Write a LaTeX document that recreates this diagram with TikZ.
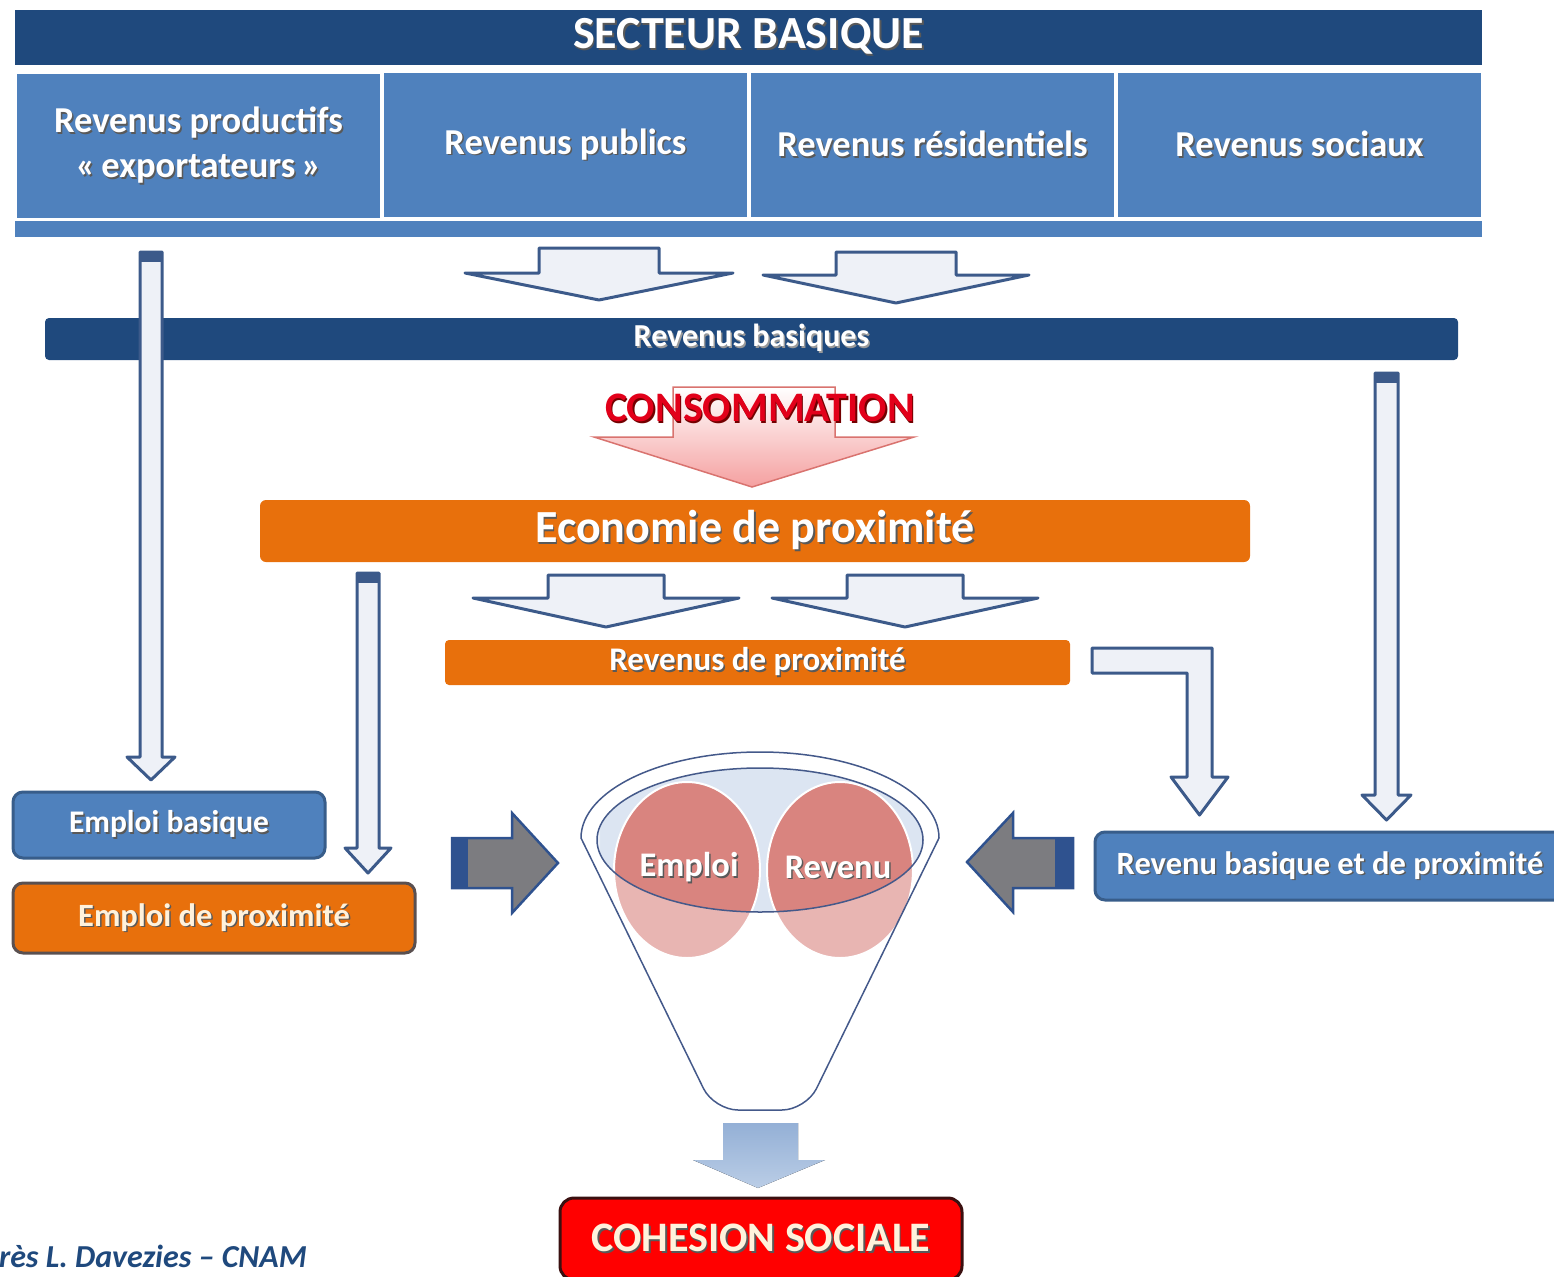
\documentclass[tikz,border=0pt]{standalone}
\usepackage{fontspec}
\setmainfont{Carlito}
\definecolor{dkblue}{HTML}{1F497D}
\definecolor{medblue}{HTML}{4F81BD}
\definecolor{bordblue}{HTML}{385D8A}
\definecolor{orng}{HTML}{E8700C}
\definecolor{arrline}{HTML}{3C5A8A}
\definecolor{arrfill}{HTML}{EEF1F7}
\definecolor{pinkc}{HTML}{D9847F}
\definecolor{consred}{HTML}{E2001A}
\definecolor{consfill}{HTML}{F5A0A0}
\definecolor{consline}{HTML}{D9736F}
\definecolor{funline}{HTML}{44598A}
\definecolor{innerfill}{HTML}{DCE5F2}
\definecolor{greyfill}{HTML}{7C7C80}
\definecolor{greyline}{HTML}{2F528F}
\definecolor{cream}{HTML}{FFF2DC}
\definecolor{cohline}{HTML}{3A1010}
\definecolor{empline}{HTML}{5A5050}
\definecolor{bluearrA}{HTML}{94B0D6}
\definecolor{bluearrB}{HTML}{BACDE6}
\newcommand\shd[2][black!65]{\leavevmode\rlap{\kern1.5pt\raisebox{-1.5pt}{\textcolor{#1}{#2}}}#2}
\newcommand\fs[1]{\fontsize{#1}{#1}\selectfont}
\newcommand\vdarrow[7][hollow]{\draw[#1] ({#2-#4},#3) -- ({#2+#4},#3) -- ({#2+#4},#5) -- ({#2+#6},#5) -- (#2,#7) -- ({#2-#6},#5) -- ({#2-#4},#5) -- cycle;}
\begin{document}
\begin{tikzpicture}[x=1pt,y=-1pt,
  every node/.style={inner sep=0pt, outer sep=0pt},
  hollow/.style={draw=arrline, fill=arrfill, line width=3pt, line join=round},
  capfill/.style={fill=arrline},
  cell/.style={fill=medblue, minimum width=363pt, minimum height=144pt, text=white, font=\bfseries\fontsize{36.5}{45}\selectfont, align=center},
  whitetext/.style={text=white, font=\bfseries\fs{#1}},
  rbox/.style={rounded corners=10pt, line width=3pt},
  greyarr/.style={fill=greyfill, draw=greyline, line width=2.5pt, line join=miter}
]
\useasboundingbox (0,0) rectangle (1554,1276);

% --- top sector ---
\node[fill=dkblue, minimum width=1467pt, minimum height=55pt, whitetext=46] (secteur) at (748.5,37.5) {\shd{SECTEUR BASIQUE}};
\node[cell] (c1) at (198.5,146) {\shd{Revenus productifs}\\\shd{«\,exportateurs\,»}};
\node[cell] (c2) at (565.5,145) {\shd{Revenus publics}};
\node[cell] (c3) at (932.5,145) {\shd{Revenus résidentiels}};
\node[cell] (c4) at (1299.5,145) {\shd{Revenus sociaux}};
\node[fill=medblue, minimum width=1467pt, minimum height=16pt] (strip) at (748.5,229) {};

% --- wide arrows to revenus basiques ---
\vdarrow{599}{248}{60}{273}{134}{300}
\vdarrow{896}{252}{60}{275}{133}{303}

\node[fill=dkblue, rounded corners=4pt, minimum width=1413pt, minimum height=42pt, whitetext=32] (rb) at (751.5,339) {\shd[black!40]{Revenus basiques}};

% --- consommation arrow ---
\path[draw=consline, line width=1.5pt, top color=white, bottom color=consfill]
  (673,387) -- (835,387) -- (835,437) -- (914,437) -- (752,487) -- (594,437) -- (673,437) -- cycle;
\node[text=consred, font=\bfseries\fs{42}] (cons) at (760,409) {\shd[red!45!black]{CONSOMMATION}};

% --- economie de proximite ---
\node[fill=orng, rounded corners=6pt, minimum width=990pt, minimum height=62pt, whitetext=46] (eco) at (755,531) {\shd{Economie de proximité}};
\vdarrow{606}{575}{58}{598}{133}{627}
\vdarrow{905}{575}{58}{598}{133}{627}
\node[fill=orng, rounded corners=4pt, minimum width=625pt, minimum height=45pt, whitetext=33] (rp) at (757.5,662.5) {\shd{Revenus de proximité}};

% --- long vertical arrows ---
\vdarrow{151}{252}{11}{757}{24}{780}
\fill[capfill] (140,252) rectangle (162,262);
\vdarrow{368}{573}{11}{848}{23}{873}
\fill[capfill] (357,573) rectangle (379,583);
\vdarrow{1386.5}{373}{11.5}{795}{24.5}{820}
\fill[capfill] (1375,373) rectangle (1398,383);
% bent arrow
\draw[hollow] (1092,648) -- (1212,648) -- (1212,777) -- (1228,777) -- (1199.5,815) -- (1171,777) -- (1187,777) -- (1187,673) -- (1092,673) -- cycle;

% --- employment boxes ---
\node[fill=medblue, draw=bordblue, rbox, minimum width=312pt, minimum height=66pt, whitetext=31.5] (eb) at (169,825) {\shd{Emploi basique}};
\node[fill=orng, draw=empline, rbox, minimum width=402pt, minimum height=70pt, text=cream, font=\bfseries\fs{32.5}] (ep) at (214,918) {\shd{Emploi de proximité}};
\node[fill=medblue, draw=bordblue, rbox, minimum width=470pt, minimum height=68pt, whitetext=32.5] (rbp) at (1330,866) {\shd{Revenu basique et de proximité}};

% --- grey arrows ---
\fill[greyfill] (452,838) -- (512,838) -- (512,813) -- (558,863) -- (512,913) -- (512,888) -- (452,888) -- cycle;
\fill[greyline] (452,838) rectangle (468,888);
\draw[greyarr, fill=none] (452,838) -- (512,838) -- (512,813) -- (558,863) -- (512,913) -- (512,888) -- (452,888) -- cycle;
\fill[greyfill] (1073,838) -- (1013,838) -- (1013,813) -- (967,862) -- (1013,912) -- (1013,888) -- (1073,888) -- cycle;
\fill[greyline] (1055,838) rectangle (1073,888);
\draw[greyarr, fill=none] (1073,838) -- (1013,838) -- (1013,813) -- (967,862) -- (1013,912) -- (1013,888) -- (1073,888) -- cycle;

% --- funnel ---
\fill[fill=white] (581,838) arc[start angle=180, end angle=360, x radius=179, y radius=86]
   [rounded corners=24pt] -- (806,1110) -- (714,1110) [sharp corners] -- cycle;
\fill[innerfill] (760,840) ellipse [x radius=163, y radius=72];
\filldraw[fill=pinkc, draw=white, line width=2pt] (687,870) ellipse [x radius=73, y radius=88];
\filldraw[fill=pinkc, draw=white, line width=2pt] (840,870) ellipse [x radius=73, y radius=88];
\fill[white, opacity=0.4, even odd rule] (600,760) rectangle (930,975) (760,840) ellipse [x radius=163, y radius=72];
\draw[funline, line width=1.5pt] (581,838) arc[start angle=180, end angle=360, x radius=179, y radius=86]
   [rounded corners=24pt] -- (806,1110) -- (714,1110) [sharp corners] -- cycle;
\draw[funline, line width=1.5pt] (760,840) ellipse [x radius=163, y radius=72];
\node[whitetext=34.5] (emp) at (689,868) {\shd{Emploi}};
\node[whitetext=34.5] (rev) at (838,868) {\shd{Revenu}};

% --- bottom arrow and cohesion ---
\fill[top color=bluearrA, bottom color=bluearrB] (723,1123) -- (798,1123) -- (798,1160) -- (825,1160) -- (758,1188) -- (693,1160) -- (723,1160) -- cycle;
\node[fill=red, draw=cohline, line width=3pt, rounded corners=14pt, minimum width=402pt, minimum height=82pt, text=cream, font=\bfseries\fs{42}] (coh) at (761,1239) {\shd{COHESION SOCIALE}};

\node[anchor=base west, text=dkblue, font=\bfseries\itshape\fs{32}] (src) at (-1,1267) {rès L. Davezies – CNAM};
\end{tikzpicture}
\end{document}
